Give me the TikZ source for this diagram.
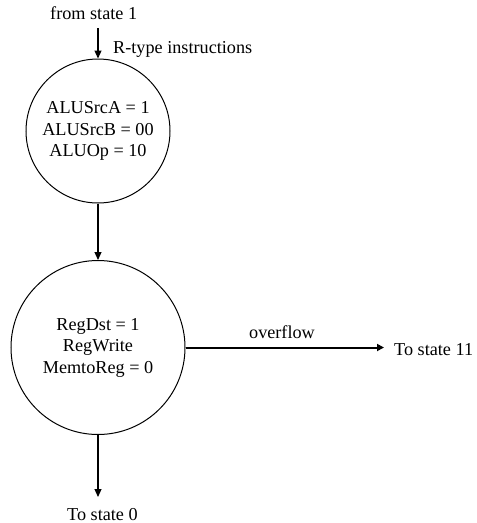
\documentclass[tikz,border=0pt]{standalone}
\usepackage{fontspec}
\setmainfont{Liberation Serif}
\usetikzlibrary{arrows.meta}
\begin{document}
\begin{tikzpicture}[x=1pt,y=-1pt,
  state/.style={circle,draw,line width=1pt,inner sep=0pt,align=center,
    font=\fontsize{18.2}{21.5}\selectfont},
  lbl/.style={inner sep=0pt,font=\fontsize{18.2}{21.5}\selectfont},
  flow/.style={line width=1.1pt,-{Triangle[length=8pt,width=7pt]}},
  flowthick/.style={line width=2pt,-{Triangle[length=7pt,width=7pt]}}]
\useasboundingbox (0,0) rectangle (477,523);

% states
\node[state,minimum size=144pt] (c1) at (98,131)
  {ALUSrcA = 1\\ALUSrcB = 00\\ALUOp = 10};
\node[state,minimum size=174pt] (c2) at (98,347.5)
  {RegDst = 1\\RegWrite\\MemtoReg = 0};

% texts outside the states
\node[lbl,anchor=base west] (from) at (50,19.3) {from state 1};
\node[lbl,anchor=base west] (rtype) at (113,53) {R-type instructions};
\node[lbl,anchor=base] (ovf) at (282,338.5) {overflow};
\node[lbl,anchor=base west] (to11) at (394,355) {To state 11};
\node[lbl,anchor=base west] (to0) at (67,520) {To state 0};

% connector ends
\coordinate (inTop) at (98,28);
\coordinate (outRight) at (384,347.5);
\coordinate (outDown) at (98,497);

% transitions
\draw[flow] (inTop) -- (c1);
\draw[flow] (c1) -- (c2);
\draw[flowthick] (c2) -- (outRight);
\draw[flow] (c2) -- (outDown);
\end{tikzpicture}
\end{document}
